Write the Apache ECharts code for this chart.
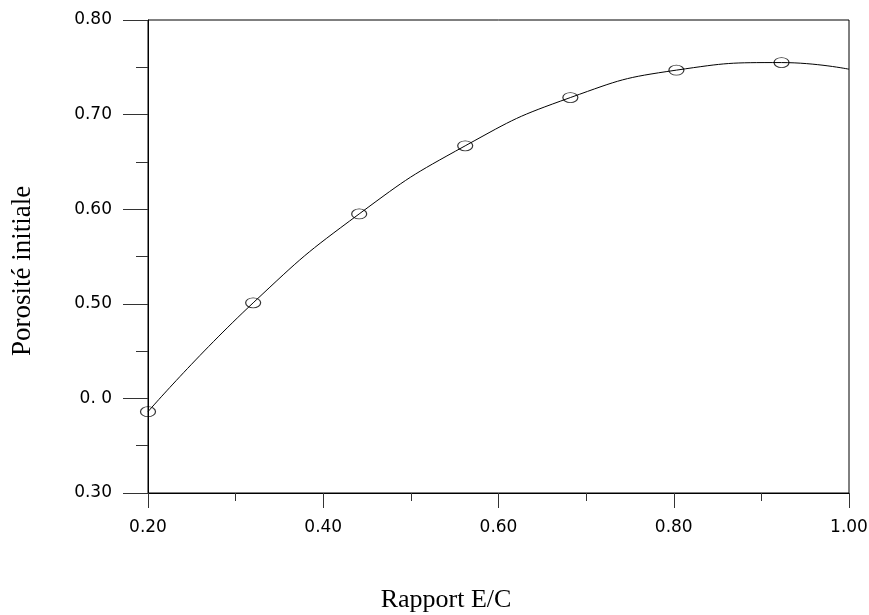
<!DOCTYPE html>
<html>
<head>
<meta charset="utf-8">
<script src="https://cdn.jsdelivr.net/npm/echarts@6/dist/echarts.min.js"></script>
<style>
html,body{margin:0;padding:0;background:#fff;}
#chart{width:869px;height:615px;}
</style>
</head>
<body>
<div id="chart"></div>
<script>
var ecRatio = [0.200, 0.320, 0.441, 0.562, 0.682, 0.803, 0.923];
var porosity = [0.386, 0.501, 0.595, 0.667, 0.718, 0.747, 0.755];
// Fitted curve (passes near the points, ends at 1.00)
var curveX = [0.200, 0.320, 0.441, 0.562, 0.682, 0.803, 0.923, 1.000];
var curveY = [0.386, 0.501, 0.595, 0.667, 0.718, 0.747, 0.755, 0.748];
// Tick labels as printed
var yTickValues = [0.30, 0.40, 0.50, 0.60, 0.70, 0.80];
var yTickLabels = ['0.30', '0. 0', '0.50', '0.60', '0.70', '0.80'];
var xTickLabels = ['0.20', '0.40', '0.60', '0.80', '1.00'];
var xTitle = 'Rapport E/C';
var yTitle = 'Porosité initiale';

var chart = echarts.init(document.getElementById('chart'), null, {renderer: 'canvas'});
var tickFont = {fontFamily: 'DejaVu Sans', fontSize: 17, color: '#000'};

chart.setOption({
  animation: false,
  backgroundColor: '#fff',
  grid: {left: 148, right: 20, top: 20, bottom: 122, containLabel: false, outerBoundsMode: 'none',
         show: true, borderColor: '#000', borderWidth: 1},
  graphic: [
    {type: 'text', x: 446, y: 600, silent: true,
     style: {text: xTitle, font: '26px "Liberation Serif"', fill: '#000', textAlign: 'center', textVerticalAlign: 'middle'}},
    {type: 'text', x: 23, y: 271, rotation: Math.PI / 2, silent: true,
     style: {text: yTitle, font: '27px "Liberation Serif"', fill: '#000', textAlign: 'center', textVerticalAlign: 'middle'}}
  ],
  xAxis: {
    type: 'value', min: 0.2, max: 1.0, interval: 0.2,
    axisLine: {show: true, lineStyle: {color: '#000', width: 1}},
    axisTick: {show: true, inside: false, length: 15, lineStyle: {color: '#333'}},
    minorTick: {show: true, splitNumber: 2, length: 8, lineStyle: {color: '#333'}},
    splitLine: {show: false},
    axisLabel: Object.assign({margin: 26, formatter: function (v) {
      var i = Math.round((v - 0.2) / 0.2); return xTickLabels[i] || '';
    }}, tickFont)
  },
  yAxis: {
    type: 'value', min: 0.3, max: 0.8, interval: 0.1,
    axisLine: {show: true, lineStyle: {color: '#000', width: 1}},
    axisTick: {show: true, inside: false, length: 25, lineStyle: {color: '#333'}},
    minorTick: {show: true, splitNumber: 2, length: 12, lineStyle: {color: '#333'}},
    splitLine: {show: false},
    axisLabel: Object.assign({margin: 36, formatter: function (v) {
      for (var i = 0; i < yTickValues.length; i++) { if (Math.abs(yTickValues[i] - v) < 1e-6) return yTickLabels[i]; }
      return '';
    }}, tickFont)
  },
  series: [
    {
      type: 'line', smooth: 0.5, showSymbol: false, silent: true,
      data: curveX.map(function (x, i) { return [x, curveY[i]]; }),
      lineStyle: {color: '#000', width: 1}
    },
    {
      type: 'scatter', symbol: 'circle', symbolSize: [15, 10],
      data: ecRatio.map(function (x, i) { return [x, porosity[i]]; }),
      itemStyle: {color: 'rgba(0,0,0,0)', borderColor: '#000', borderWidth: 1}
    }
  ]
});
</script>
</body>
</html>
